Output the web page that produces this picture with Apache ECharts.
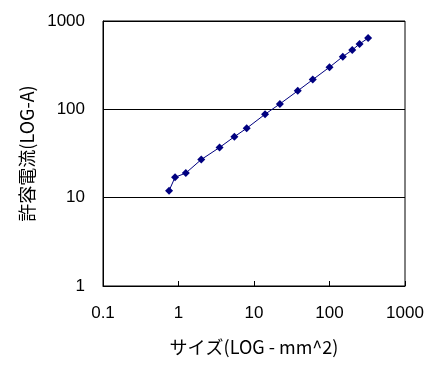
<!DOCTYPE html>
<html>
<head>
<meta charset="utf-8">
<script src="https://cdn.jsdelivr.net/npm/echarts@6/dist/echarts.min.js"></script>
<style>
  html, body { margin: 0; padding: 0; background: #fff; }
  #chart { width: 433px; height: 367px; }
</style>
</head>
<body>
<div id="chart"></div>
<script>
// 電線サイズ (mm^2) と許容電流 (A)
const sizes = [0.75, 0.9, 1.25, 2, 3.5, 5.5, 8, 14, 22, 38, 60, 100, 150, 200, 250, 325];
const currents = [12, 17, 19, 27, 37, 49, 61, 88, 115, 162, 217, 300, 395, 469, 550, 640];
const xTicks = [0.1, 1, 10, 100, 1000];
const yTicks = [1, 10, 100, 1000];

const font = 'Arial';
const cjkFont = 'Noto Sans CJK JP';

const chart = echarts.init(document.getElementById('chart'));
chart.setOption({
    animation: false,
    backgroundColor: '#fff',
    grid: {
        left: 103, right: 28, top: 21, bottom: 81,
        show: true, borderColor: '#000', borderWidth: 1
    },
    xAxis: {
        type: 'log',
        logBase: 10,
        min: xTicks[0],
        max: xTicks[xTicks.length - 1],
        name: 'サイズ(LOG - mm^2)',
        nameLocation: 'middle',
        nameGap: 52,
        nameTextStyle: { color: '#000', fontSize: 18, fontFamily: cjkFont },
        axisLine: { lineStyle: { color: '#000', width: 1 } },
        axisTick: { show: true, inside: true, length: 5, lineStyle: { color: '#000' } },
        axisLabel: {
            color: '#000', fontSize: 17, fontFamily: font, margin: 19,
            formatter: v => String(v)
        },
        splitLine: { show: false }
    },
    yAxis: {
        type: 'log',
        logBase: 10,
        min: yTicks[0],
        max: yTicks[yTicks.length - 1],
        name: '許容電流(LOG-A)',
        nameLocation: 'middle',
        nameGap: 67,
        nameRotate: 90,
        nameTextStyle: { color: '#000', fontSize: 18, fontFamily: cjkFont },
        axisLine: { show: true, lineStyle: { color: '#000', width: 1 } },
        axisTick: { show: false },
        axisLabel: {
            color: '#000', fontSize: 17, fontFamily: font, margin: 18,
            formatter: v => String(v)
        },
        splitLine: { show: true, lineStyle: { color: '#000', width: 1 } }
    },
    series: [{
        type: 'line',
        data: sizes.map((s, i) => [s, currents[i]]),
        symbol: 'diamond',
        symbolSize: 8,
        showAllSymbol: true,
        lineStyle: { color: '#000080', width: 1 },
        itemStyle: { color: '#000080' }
    }]
});
</script>
</body>
</html>
